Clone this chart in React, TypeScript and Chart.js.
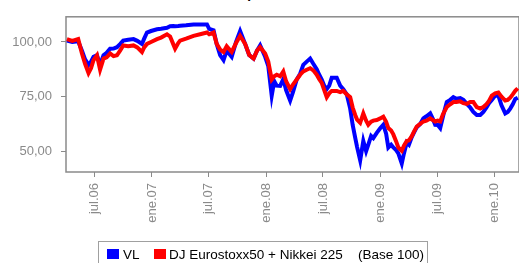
import React, { useEffect, useRef } from "react";
import { Chart, registerables } from "chart.js";

Chart.register(...registerables);

const TITLE = "Evolución del valor liquidativo vs. índice de referencia";
const SERIES_VL = "VL";
const SERIES_BENCH = "DJ Eurostoxx50 + Nikkei 225";
const LEGEND_NOTE = "(Base 100)";

const DATES = [
  "2006-04-04", "2006-04-21", "2006-05-10", "2006-05-22", "2006-06-01", "2006-06-12", "2006-06-20", "2006-06-28",
  "2006-07-09", "2006-07-19", "2006-07-30", "2006-08-09", "2006-08-20", "2006-08-31", "2006-09-11", "2006-09-21",
  "2006-10-01", "2006-10-17", "2006-11-03", "2006-11-15", "2006-11-30", "2006-12-07", "2006-12-16", "2006-12-29",
  "2007-01-17", "2007-01-30", "2007-02-18", "2007-02-28", "2007-03-10", "2007-03-16", "2007-03-26", "2007-04-01",
  "2007-04-20", "2007-05-14", "2007-06-04", "2007-06-26", "2007-07-03", "2007-07-17", "2007-07-27", "2007-08-07",
  "2007-08-18", "2007-08-28", "2007-09-13", "2007-09-27", "2007-10-10", "2007-10-26", "2007-11-08", "2007-11-22",
  "2007-12-03", "2007-12-13", "2007-12-29", "2008-01-08", "2008-01-19", "2008-01-27", "2008-02-04", "2008-02-15",
  "2008-02-25", "2008-03-05", "2008-03-18", "2008-03-27", "2008-04-08", "2008-04-19", "2008-04-29", "2008-05-10",
  "2008-05-21", "2008-05-31", "2008-06-11", "2008-06-19", "2008-06-27", "2008-07-05", "2008-07-13", "2008-07-21",
  "2008-07-29", "2008-08-14", "2008-08-25", "2008-09-04", "2008-09-15", "2008-09-26", "2008-10-04", "2008-10-12",
  "2008-10-18", "2008-10-28", "2008-11-07", "2008-11-16", "2008-11-23", "2008-12-02", "2008-12-09", "2008-12-20",
  "2008-12-31", "2009-01-10", "2009-01-19", "2009-01-26", "2009-02-04", "2009-02-11", "2009-02-20", "2009-02-27",
  "2009-03-10", "2009-03-17", "2009-03-26", "2009-04-02", "2009-04-11", "2009-04-18", "2009-04-27", "2009-05-08",
  "2009-05-18", "2009-05-28", "2009-06-09", "2009-06-17", "2009-06-25", "2009-07-03", "2009-07-11", "2009-07-20",
  "2009-08-01", "2009-08-12", "2009-08-22", "2009-09-01", "2009-09-13", "2009-09-23", "2009-10-04", "2009-10-15",
  "2009-10-25", "2009-11-05", "2009-11-16", "2009-11-26", "2009-12-06", "2009-12-14", "2009-12-23", "2010-01-03",
  "2010-01-13", "2010-01-23", "2010-02-04", "2010-02-12", "2010-02-20", "2010-02-28", "2010-03-08", "2010-03-16",
];

const VL = [
  100.6, 100.0, 100.3, 96.0, 92.0, 89.5, 91.0, 93.2,
  93.9, 89.5, 93.9, 95.0, 96.9, 97.0, 97.6, 99.0,
  100.6, 101.0, 101.3, 100.5, 99.1, 101.5, 104.3, 105.0,
  105.8, 106.0, 106.5, 107.2, 107.3, 107.2, 107.3, 107.4,
  107.6, 108.0, 108.0, 108.0, 106.0, 105.3, 99.1, 94.0,
  91.7, 96.0, 93.2, 100.0, 105.0, 99.1, 94.0, 92.4,
  96.0, 98.4, 93.2, 89.0, 75.4, 82.1, 80.0, 79.9,
  83.0, 78.0, 73.2, 77.0, 82.8, 85.5, 89.5, 91.0,
  92.4, 90.0, 87.5, 85.0, 82.8, 80.0, 78.4, 80.0,
  83.6, 83.6, 80.0, 78.4, 76.0, 69.5, 62.0, 56.2,
  52.0, 45.8, 54.7, 50.0, 53.0, 57.0, 56.0, 58.4,
  60.5, 62.1, 58.0, 51.7, 53.0, 51.7, 50.5, 49.0,
  44.4, 49.0, 54.0, 53.0, 56.5, 58.5, 61.0, 62.5,
  65.0, 66.0, 67.3, 65.0, 62.1, 62.0, 60.6, 66.0,
  72.5, 73.5, 74.7, 74.0, 74.3, 73.5, 71.7, 70.0,
  68.0, 66.6, 66.6, 68.0, 70.0, 72.0, 73.5, 75.5,
  75.4, 71.0, 67.3, 68.0, 69.5, 71.5, 73.9, 74.5,
];

const BENCH = [
  101.3, 100.5, 101.3, 94.7, 90.0, 85.8, 88.0, 91.7,
  93.9, 87.3, 92.4, 93.0, 94.7, 93.5, 93.9, 96.0,
  98.4, 98.0, 98.4, 97.5, 95.4, 97.5, 99.1, 100.0,
  101.3, 102.0, 103.5, 102.5, 99.0, 96.9, 99.5, 100.6,
  101.5, 102.8, 103.5, 104.3, 103.5, 104.3, 99.1, 96.5,
  95.4, 98.0, 95.4, 99.5, 102.8, 99.1, 94.0, 92.4,
  96.0, 97.6, 94.7, 91.0, 82.8, 84.3, 85.0, 84.3,
  86.5, 82.0, 78.4, 80.5, 82.8, 85.0, 86.5, 87.3,
  88.0, 87.0, 85.0, 83.0, 81.3, 78.0, 74.7, 76.5,
  77.6, 77.6, 77.0, 77.6, 76.0, 74.7, 70.0, 66.6,
  64.5, 63.0, 67.3, 64.0, 62.1, 63.5, 64.0, 64.3,
  65.0, 65.8, 63.5, 60.6, 59.5, 57.7, 54.5, 51.7,
  50.2, 52.5, 54.7, 55.0, 56.9, 59.0, 61.3, 62.5,
  63.6, 64.0, 65.0, 64.3, 63.6, 64.0, 63.6, 67.0,
  70.2, 71.5, 72.5, 72.5, 72.8, 72.0, 71.7, 72.5,
  72.5, 70.2, 69.5, 70.2, 71.5, 73.0, 75.4, 76.5,
  76.9, 75.0, 73.2, 73.5, 74.5, 76.0, 77.6, 78.8,
];

const X_TICK_DATES = ["2006-07-01", "2007-01-01", "2007-07-01", "2008-01-01", "2008-07-01", "2009-01-01", "2009-07-01", "2010-01-01"];
const X_TICK_LABELS = ["jul.06", "ene.07", "jul.07", "ene.08", "jul.08", "ene.09", "jul.09", "ene.10"];
const X_MIN_DATE = "2006-04-01";
const X_MAX_DATE = "2010-03-20";
const Y_TICKS = [50, 75, 100];
const Y_MIN = 40.5;
const Y_MAX = 111.5;

const toMs = (s: string) => {
  const [y, m, d] = s.split("-").map(Number);
  return Date.UTC(y, m - 1, d);
};

const AXIS_GRAY = "#8a8a8a";
const FONT = '"Liberation Sans", Arial, sans-serif';

const framePlugin = {
  id: "frame",
  beforeDatasetsDraw(chart: any) {
    const { ctx, chartArea } = chart;
    ctx.save();
    ctx.strokeStyle = AXIS_GRAY;
    ctx.lineWidth = 1.5;
    ctx.strokeRect(chartArea.left, chartArea.top, chartArea.right - chartArea.left, chartArea.bottom - chartArea.top);
    ctx.restore();
  },
};

export default function App() {
  const ref = useRef<HTMLCanvasElement | null>(null);

  useEffect(() => {
    if (!ref.current) return;
    const tickMs = X_TICK_DATES.map(toMs);
    const xs = DATES.map(toMs);
    const chart = new Chart(ref.current, {
      type: "line",
      data: {
        datasets: [
          {
            label: SERIES_BENCH,
            data: xs.map((x, i) => ({ x, y: BENCH[i] })),
            borderColor: "#ff0000",
            backgroundColor: "#ff0000",
            borderWidth: 4,
            pointRadius: 0,
            tension: 0,
          },
          {
            label: SERIES_VL,
            data: xs.map((x, i) => ({ x, y: VL[i] })),
            borderColor: "#0000ff",
            backgroundColor: "#0000ff",
            borderWidth: 4,
            pointRadius: 0,
            tension: 0,
          },
        ],
      },
      options: {
        responsive: false,
        animation: false,
        devicePixelRatio: 1,
        layout: { padding: { top: 12, left: 0, right: 0, bottom: 0 } },
        plugins: {
          legend: { display: false },
          tooltip: { enabled: false },
          title: { display: false },
        },
        scales: {
          x: {
            type: "linear",
            min: toMs(X_MIN_DATE),
            max: toMs(X_MAX_DATE),
            afterFit(scale: any) {
              scale.height = 91;
            },
            afterBuildTicks(scale: any) {
              scale.ticks = tickMs.map((v) => ({ value: v }));
            },
            ticks: {
              autoSkip: false,
              minRotation: 90,
              maxRotation: 90,
              padding: 6,
              color: AXIS_GRAY,
              font: { family: FONT, size: 13 },
              callback(v: any) {
                const i = tickMs.indexOf(Number(v));
                return i >= 0 ? X_TICK_LABELS[i] : "";
              },
            },
            grid: { drawOnChartArea: false, drawTicks: true, tickLength: 5, color: AXIS_GRAY },
            border: { display: false },
          },
          y: {
            type: "linear",
            min: Y_MIN,
            max: Y_MAX,
            afterFit(scale: any) {
              scale.width = 66;
            },
            afterBuildTicks(scale: any) {
              scale.ticks = Y_TICKS.map((v) => ({ value: v }));
            },
            ticks: {
              padding: 9,
              color: AXIS_GRAY,
              font: { family: FONT, size: 13 },
              callback(v: any) {
                return Number(v).toFixed(2).replace(".", ",");
              },
            },
            grid: { drawOnChartArea: false, drawTicks: true, tickLength: 5, color: AXIS_GRAY },
            border: { display: false },
          },
        },
      } as any,
      plugins: [framePlugin],
    });
    return () => chart.destroy();
  }, []);

  const textStyle: React.CSSProperties = {
    position: "absolute",
    top: 247,
    fontFamily: FONT,
    fontSize: "13.5px",
    lineHeight: "16px",
    color: "#000",
    whiteSpace: "nowrap",
  };

  return (
    <div style={{ position: "absolute", left: 0, top: 0, width: 519, height: 263, overflow: "hidden", background: "#fff" }}>
      <div
        style={{
          position: "absolute",
          left: 33,
          top: -15.5,
          width: 500,
          textAlign: "center",
          fontFamily: FONT,
          fontWeight: "bold",
          fontSize: "14px",
          lineHeight: "16px",
          color: "#000",
          whiteSpace: "nowrap",
        }}
      >
        {TITLE}
      </div>
      <canvas ref={ref} width={519} height={263} style={{ position: "absolute", left: 0, top: 0 }} />
      <div
        style={{
          position: "absolute",
          left: 98,
          top: 241,
          width: 330,
          height: 40,
          border: "1px solid #a0a0a0",
          boxSizing: "border-box",
        }}
      />
      <div style={{ position: "absolute", left: 107, top: 249, width: 12, height: 10, background: "#0000ff" }} />
      <span style={{ ...textStyle, left: 123 }}>{SERIES_VL}</span>
      <div style={{ position: "absolute", left: 154, top: 249, width: 12, height: 10, background: "#ff0000" }} />
      <span style={{ ...textStyle, left: 169 }}>{SERIES_BENCH}</span>
      <span style={{ ...textStyle, left: 358 }}>{LEGEND_NOTE}</span>
    </div>
  );
}
